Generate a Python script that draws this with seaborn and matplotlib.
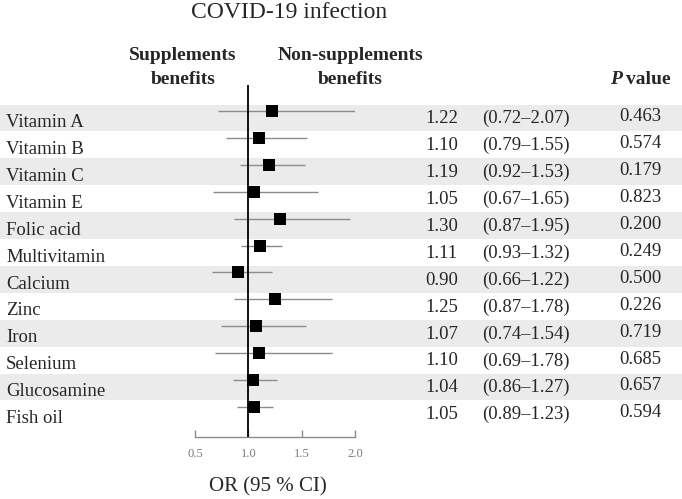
import pandas as pd
import matplotlib.pyplot as plt
import seaborn as sns

# forest plot data
supplements = ['Vitamin A', 'Vitamin B', 'Vitamin C', 'Vitamin E', 'Folic acid',
               'Multivitamin', 'Calcium', 'Zinc', 'Iron', 'Selenium',
               'Glucosamine', 'Fish oil']
odds_ratio = [1.22, 1.10, 1.19, 1.05, 1.30, 1.11, 0.90, 1.25, 1.07, 1.10, 1.04, 1.05]
ci_low = [0.72, 0.79, 0.92, 0.67, 0.87, 0.93, 0.66, 0.87, 0.74, 0.69, 0.86, 0.89]
ci_high = [2.07, 1.55, 1.53, 1.65, 1.95, 1.32, 1.22, 1.78, 1.54, 1.78, 1.27, 1.23]
p_values = ['0.463', '0.574', '0.179', '0.823', '0.200', '0.249',
            '0.500', '0.226', '0.719', '0.685', '0.657', '0.594']
x_ticks = [0.5, 1.0, 1.5, 2.0]

df = pd.DataFrame({'name': supplements, 'OR': odds_ratio,
                   'lo': ci_low, 'hi': ci_high, 'p': p_values})
df['row'] = range(len(df))

sns.set_style('white')
plt.rcParams['font.family'] = ['Liberation Serif', 'DejaVu Serif']

W, H = 682, 499
fig = plt.figure(figsize=(W / 100, H / 100), dpi=100)


def fx(x):
    return x / W


def fy(y):
    return 1 - y / H


# geometry (pixels)
top_px, axis_px = 85, 437
row0_px, pitch = 118, 26.9
y_top = (top_px - row0_px) / pitch
y_bot = (axis_px - row0_px) / pitch
ax_rect_y = fy(axis_px)
ax_rect_h = (axis_px - top_px) / H

# background axes: bands and table text
bg = fig.add_axes([0, ax_rect_y, 1, ax_rect_h])
bg.set_xlim(0, W)
bg.set_ylim(y_bot, y_top)
bg.axis('off')
for r in df['row']:
    if r % 2 == 0:
        bg.axhspan(r - 0.5, r + 0.5, color='#ebebeb', lw=0, zorder=0)
for _, d in df.iterrows():
    r = d['row']
    bg.text(6, r + 0.34, d['name'], fontsize=13.5, va='baseline', ha='left')
    bg.text(425, r + 0.2, f"{d['OR']:.2f}", fontsize=13.5, va='baseline', ha='left')
    bg.text(482, r + 0.2, f"({d['lo']:.2f}\u2013{d['hi']:.2f})", fontsize=13.5,
            va='baseline', ha='left')
    bg.text(640, r + 0.13, d['p'], fontsize=13.5, va='baseline', ha='center')

# forest axes
ax = fig.add_axes([fx(195), ax_rect_y, fx(160), ax_rect_h])
ax.patch.set_alpha(0)
ax.set_xlim(0.5, 2.0)
ax.set_ylim(y_bot, y_top)
ax.hlines(df['row'] - 0.26, df['lo'], df['hi'], color='#8c8c8c', lw=1.0, zorder=2)
ax.axvline(1.0, color='black', lw=1.3, zorder=3)
sns.scatterplot(data=df.assign(y=df['row'] - 0.26), x='OR', y='y', marker='s',
                s=70, color='black', edgecolor='black', linewidth=0, zorder=4,
                ax=ax, legend=False)
for s in ['top', 'left', 'right']:
    ax.spines[s].set_visible(False)
ax.spines['bottom'].set_color('#8c8c8c')
ax.spines['bottom'].set_linewidth(1.0)
ax.set_xticks(x_ticks)
ax.set_xticklabels([f'{t:.1f}' for t in x_ticks])
ax.tick_params(axis='x', direction='in', length=5, width=1, color='#8c8c8c',
               labelsize=9, labelcolor='#7a7a7a', pad=8, bottom=True)
ax.set_yticks([])
ax.set_xlabel('')
ax.set_ylabel('')

# titles and headers
fig.text(fx(289), fy(13), 'COVID-19 infection', fontsize=17, ha='center', va='center')
fig.text(fx(183), fy(56), 'Supplements', fontsize=14, fontweight='bold', ha='center', va='center')
fig.text(fx(183), fy(79), 'benefits', fontsize=14, fontweight='bold', ha='center', va='center')
fig.text(fx(350), fy(56), 'Non-supplements', fontsize=14, fontweight='bold', ha='center', va='center')
fig.text(fx(350), fy(79), 'benefits', fontsize=14, fontweight='bold', ha='center', va='center')
fig.text(fx(610), fy(79), 'P', fontsize=14, fontweight='bold', fontstyle='italic',
         ha='left', va='center')
fig.text(fx(626), fy(79), 'value', fontsize=14, fontweight='bold', ha='left', va='center')
fig.text(fx(268), fy(487), 'OR (95 % CI)', fontsize=15, ha='center', va='center')

fig.savefig('out.png', dpi=100)
